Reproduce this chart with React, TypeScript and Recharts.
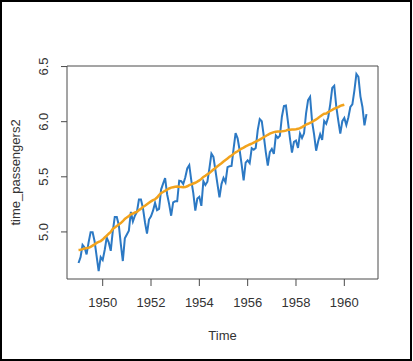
import React from "react";
import {
  LineChart,
  Line,
  XAxis,
  YAxis,
  ReferenceArea,
} from "recharts";

// log monthly airline passengers, Jan 1949 .. Dec 1960
const startYear = 1949;
const logPassengers = [
  4.718, 4.771, 4.883, 4.86, 4.796, 4.905, 4.997, 4.997, 4.913, 4.779, 4.644, 4.771,
  4.745, 4.836, 4.949, 4.905, 4.828, 5.004, 5.136, 5.136, 5.063, 4.89, 4.736, 4.942,
  4.977, 5.011, 5.182, 5.094, 5.147, 5.182, 5.293, 5.293, 5.215, 5.088, 4.984, 5.112,
  5.142, 5.193, 5.263, 5.198, 5.209, 5.384, 5.438, 5.489, 5.342, 5.252, 5.147, 5.268,
  5.278, 5.278, 5.464, 5.46, 5.434, 5.493, 5.576, 5.606, 5.468, 5.352, 5.193, 5.303,
  5.318, 5.236, 5.46, 5.425, 5.455, 5.576, 5.71, 5.68, 5.557, 5.434, 5.313, 5.434,
  5.489, 5.451, 5.587, 5.595, 5.598, 5.753, 5.897, 5.849, 5.743, 5.613, 5.468, 5.628,
  5.649, 5.624, 5.759, 5.746, 5.762, 5.924, 6.023, 6.004, 5.872, 5.724, 5.602, 5.724,
  5.753, 5.707, 5.875, 5.852, 5.872, 6.045, 6.142, 6.146, 6.001, 5.849, 5.72, 5.817,
  5.829, 5.762, 5.892, 5.852, 5.894, 6.075, 6.196, 6.225, 6.001, 5.883, 5.737, 5.82,
  5.886, 5.835, 6.006, 5.981, 6.04, 6.157, 6.306, 6.326, 6.138, 6.009, 5.892, 6.004,
  6.033, 5.969, 6.038, 6.133, 6.157, 6.282, 6.433, 6.407, 6.23, 6.133, 5.966, 6.068,
];

// 12-month moving average, aligned to the first month of each window
const movingAvg = [
  4.836, 4.838, 4.844, 4.849, 4.853, 4.856, 4.864, 4.876, 4.887, 4.9, 4.909, 4.917,
  4.931, 4.95, 4.965, 4.984, 5.0, 5.027, 5.041, 5.054, 5.068, 5.08, 5.097, 5.117,
  5.132, 5.145, 5.16, 5.167, 5.176, 5.181, 5.198, 5.21, 5.226, 5.237, 5.251, 5.264,
  5.277, 5.288, 5.296, 5.312, 5.334, 5.353, 5.362, 5.373, 5.383, 5.394, 5.402, 5.406,
  5.409, 5.412, 5.409, 5.408, 5.405, 5.407, 5.414, 5.425, 5.431, 5.439, 5.446, 5.456,
  5.467, 5.481, 5.499, 5.509, 5.523, 5.535, 5.55, 5.566, 5.58, 5.595, 5.61, 5.623,
  5.639, 5.653, 5.667, 5.681, 5.694, 5.708, 5.722, 5.732, 5.745, 5.756, 5.765, 5.776,
  5.784, 5.793, 5.8, 5.81, 5.819, 5.828, 5.838, 5.848, 5.86, 5.87, 5.881, 5.891,
  5.898, 5.905, 5.909, 5.911, 5.911, 5.912, 5.915, 5.919, 5.926, 5.926, 5.929, 5.93,
  5.931, 5.935, 5.941, 5.951, 5.962, 5.974, 5.981, 5.99, 5.998, 6.01, 6.02, 6.033,
  6.048, 6.061, 6.072, 6.074, 6.087, 6.097, 6.107, 6.118, 6.125, 6.132, 6.143, 6.149,
  6.154,
];

const xTicks = [1950, 1952, 1954, 1956, 1958, 1960];
const yTicks = [5.0, 5.5, 6.0, 6.5];
const xDomain: [number, number] = [1948.523, 1961.394];
const yDomain: [number, number] = [4.573, 6.505];

const data = logPassengers.map((v, i) => ({
  t: startYear + i / 12,
  value: v,
  ma: i < movingAvg.length ? movingAvg[i] : undefined,
}));

const FONT = "'Liberation Sans', Arial, sans-serif";
const AXIS = "#4a4a4a";
const TEXT = "#333";

function YTick(props: any) {
  const { x, y, payload } = props;
  return (
    <text
      x={x}
      y={y}
      transform={`rotate(-90, ${x}, ${y})`}
      textAnchor="middle"
      fontSize={13}
      fontFamily={FONT}
      fill={TEXT}
    >
      {Number(payload.value).toFixed(1)}
    </text>
  );
}

export default function App() {
  return (
    <div
      style={{
        position: "fixed",
        left: 0,
        top: 0,
        width: 413,
        height: 361,
        background: "#fff",
      }}
    >
      <LineChart
        width={413}
        height={361}
        data={data}
        margin={{ top: 66, right: 35, bottom: 0, left: 0 }}
      >
        <XAxis
          dataKey="t"
          type="number"
          domain={xDomain}
          allowDataOverflow
          ticks={xTicks}
          height={82}
          axisLine={false}
          tickLine={{ stroke: AXIS }}
          tickSize={7}
          tickMargin={12}
          tick={{ fontSize: 13, fontFamily: FONT, fill: TEXT }}
          label={{
            value: "Time",
            position: "insideBottom",
            offset: 21,
            fontSize: 13,
            fontFamily: FONT,
            fill: TEXT,
          }}
        />
        <YAxis
          type="number"
          domain={yDomain}
          allowDataOverflow
          ticks={yTicks}
          width={67}
          axisLine={false}
          tickLine={{ stroke: AXIS }}
          tickSize={6}
          tickMargin={13}
          tick={<YTick />}
          label={{
            content: (p: any) => {
              const vb = p.viewBox;
              const cx = 19.5;
              const cy = vb.y + vb.height / 2;
              return (
                <text
                  x={cx}
                  y={cy}
                  transform={`rotate(-90, ${cx}, ${cy})`}
                  textAnchor="middle"
                  fontSize={13}
                  fontFamily={FONT}
                  fill={TEXT}
                >
                  time_passengers2
                </text>
              );
            },
          }}
        />
        <ReferenceArea
          x1={xDomain[0]}
          x2={xDomain[1]}
          y1={yDomain[0]}
          y2={yDomain[1]}
          fill="none"
          stroke={AXIS}
          strokeWidth={1}
          ifOverflow="visible"
        />
        <Line
          dataKey="value"
          stroke="#2c79c4"
          strokeWidth={2}
          dot={false}
          activeDot={false}
          isAnimationActive={false}
        />
        <Line
          dataKey="ma"
          stroke="#f2a31d"
          strokeWidth={2.5}
          dot={false}
          activeDot={false}
          isAnimationActive={false}
        />
      </LineChart>
      <div
        style={{
          position: "absolute",
          left: 0,
          top: 0,
          width: 412,
          height: 361,
          boxSizing: "border-box",
          border: "2px solid #000",
          pointerEvents: "none",
        }}
      />
    </div>
  );
}
